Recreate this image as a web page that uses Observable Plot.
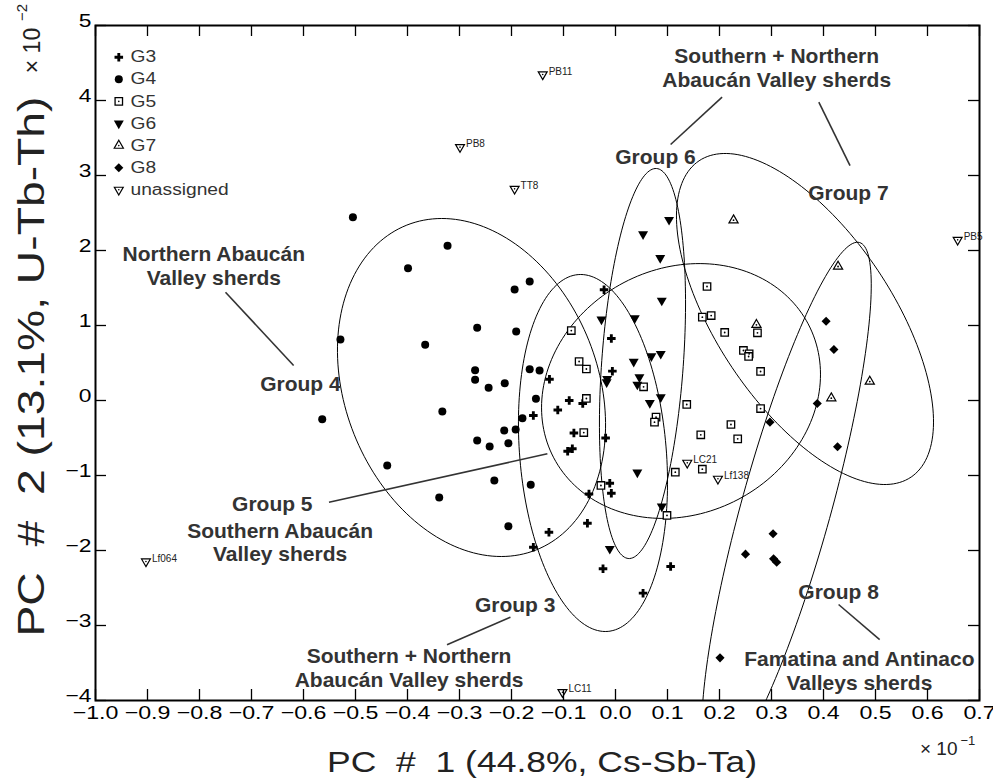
<!DOCTYPE html>
<html><head><meta charset="utf-8">
<script src="https://cdn.jsdelivr.net/npm/d3@7"></script>
<script src="https://cdn.jsdelivr.net/npm/@observablehq/plot@0.6"></script>
<style>body{margin:0;background:#fff} svg{display:block}</style>
</head><body><div id="chart"></div>
<script>
// ---------- data ----------
const xTicks = [-1.0,-0.9,-0.8,-0.7,-0.6,-0.5,-0.4,-0.3,-0.2,-0.1,0.0,0.1,0.2,0.3,0.4,0.5,0.6,0.7];
const yTicks = [-4,-3,-2,-1,0,1,2,3,4,5];

const g3 = [[-0.022,1.476],[-0.008,0.827],[-0.006,0.391],[-0.127,0.284],[-0.089,0.0],[-0.063,-0.04],[-0.111,-0.127],[-0.158,-0.2],[-0.08,-0.433],[-0.019,-0.5],[-0.083,-0.644],[-0.092,-0.676],[-0.011,-1.103],[-0.008,-1.236],[-0.051,-1.247],[-0.054,-1.636],[-0.128,-1.756],[-0.158,-1.956],[-0.024,-2.244],[0.106,-2.213],[0.053,-2.569]];
const g4 = [[-0.505,2.444],[-0.323,2.063],[-0.399,1.764],[-0.165,1.587],[-0.194,1.48],[-0.266,0.969],[-0.191,0.92],[-0.529,0.813],[-0.366,0.743],[-0.27,0.404],[-0.27,0.276],[-0.165,0.417],[-0.146,0.4],[-0.244,0.169],[-0.213,0.231],[-0.153,0.023],[-0.179,-0.236],[-0.333,-0.147],[-0.214,-0.4],[-0.192,-0.387],[-0.266,-0.533],[-0.242,-0.613],[-0.206,-0.569],[-0.564,-0.249],[-0.439,-0.867],[-0.233,-1.067],[-0.163,-1.124],[-0.339,-1.293],[-0.206,-1.676]];
const g5 = [[-0.085,0.933],[-0.07,0.52],[-0.056,0.42],[-0.056,0.027],[-0.061,-0.427],[0.054,0.183],[0.078,-0.222],[0.075,-0.289],[0.176,1.52],[0.167,1.111],[0.184,1.133],[0.21,0.907],[0.273,0.903],[0.246,0.667],[0.257,0.622],[0.256,0.587],[0.279,0.387],[0.137,-0.053],[0.279,-0.107],[0.222,-0.32],[0.164,-0.457],[0.235,-0.511],[0.115,-0.956],[0.167,-0.916],[-0.028,-1.133],[0.099,-1.533]];
const g6 = [[0.103,2.409],[0.053,2.217],[0.086,1.9],[0.089,1.333],[-0.027,1.08],[0.037,1.097],[0.069,0.591],[0.087,0.622],[0.035,0.517],[0.046,0.311],[0.042,0.213],[-0.016,0.287],[-0.017,0.244],[0.066,-0.033],[0.087,0.044],[0.042,-0.96],[0.089,-1.413],[-0.011,-1.977]];
const g7 = [[0.227,2.404],[0.428,1.787],[0.271,1.009],[0.489,0.253],[0.415,0.031]];
const g8 = [[0.405,1.057],[0.42,0.68],[0.388,-0.04],[0.297,-0.289],[0.427,-0.617],[0.303,-1.777],[0.25,-2.049],[0.304,-2.111],[0.31,-2.156],[0.201,-3.431]];
const unassigned = [["PB11",-0.14,4.347],["PB8",-0.299,3.378],["TT8",-0.194,2.822],["PB5",0.658,2.142],["LC21",0.138,-0.831],["Lf138",0.197,-1.044],["Lf064",-0.903,-2.147],["LC11",-0.102,-3.889]];

// group ellipses: centre and two conjugate semi-axis vectors (data units)
const ellipses = [
  {group:"G3", cx:-0.0433, cy:-0.70,  ax:0.0285,  ay:-2.3787, bx:-0.1405, by:-0.0809},
  {group:"G4", cx:-0.2769, cy:0.1733, ax:0.1244,  ay:-2.1653, bx:-0.2258, by:-0.6240},
  {group:"G5", cx:0.1260,  cy:0.1267, ax:0.2448,  ay:0.8907,  bx:0.1096,  by:-1.4467},
  {group:"G6", cx:0.0519,  cy:0.4933, ax:-0.0269, ay:-2.6000, bx:-0.0783, by:0.0387},
  {group:"G7", cx:0.3644,  cy:1.0867, ax:0.2037,  ay:-2.1093, bx:-0.1400, by:-0.6493},
  {group:"G8", cx:0.3288,  cy:-1.4133,ax:-0.1404, ay:-3.5200, bx:0.0829,  by:-0.1587}
];

const annotations = [
  {text:"Northern Abaucán\nValley sherds", x:-0.7725, y:1.804},
  {text:"Group 4", x:-0.606, y:0.231},
  {text:"Group 5", x:-0.660, y:-1.377},
  {text:"Southern Abaucán\nValley sherds", x:-0.645, y:-1.884},
  {text:"Group 3", x:-0.193, y:-2.72},
  {text:"Southern + Northern\nAbaucán Valley sherds", x:-0.397, y:-3.556},
  {text:"Group 6", x:0.077, y:3.25},
  {text:"Group 7", x:0.448, y:2.77},
  {text:"Southern + Northern\nAbaucán Valley sherds", x:0.310, y:4.444},
  {text:"Group 8", x:0.429, y:-2.54},
  {text:"Famatina and Antinaco\nValleys sherds", x:0.469, y:-3.60}
];
const pointers = [
  [-0.750,1.444,-0.619,0.467],
  [-0.551,-1.356,-0.131,-0.711],
  [-0.202,-2.889,-0.324,-3.257],
  [0.205,4.044,0.106,3.413],
  [0.391,3.977,0.451,3.133],
  [0.429,-2.72,0.508,-3.187]
];
const legendLabels = ["G3","G4","G5","G6","G7","G8","unassigned"];

// ---------- drawing ----------
const FONT = "Liberation Sans, Arial, Helvetica, sans-serif";
const downTriangle = {draw(ctx, size){ const y = Math.sqrt(size/(3*Math.sqrt(3))); ctx.moveTo(0, 2*y); ctx.lineTo(Math.sqrt(3)*y, -y); ctx.lineTo(-Math.sqrt(3)*y, -y); ctx.closePath(); }};

const styles = {
  G3: {symbol:"cross", r:3.6, fill:"black", stroke:"none"},
  G4: {symbol:"circle", r:4, fill:"black", stroke:"none"},
  G5: {symbol:"square", r:4.2, fill:"white", stroke:"black", strokeWidth:1.3},
  G6: {symbol:downTriangle, r:3.7, fill:"black", stroke:"none"},
  G7: {symbol:"triangle", r:3.4, fill:"white", stroke:"black", strokeWidth:1.2},
  G8: {symbol:"diamond2", r:4.1, fill:"black", stroke:"none"},
  unassigned: {symbol:downTriangle, r:3.3, fill:"white", stroke:"black", strokeWidth:1.2}
};
const centreDot = {G5:true, G7:true, unassigned:true};

const ellipsePts = ellipses.flatMap(e => d3.range(0, 360, 2).map(t => {
  const a = t*Math.PI/180;
  return {group:e.group, x:e.cx + e.ax*Math.cos(a) + e.bx*Math.sin(a), y:e.cy + e.ay*Math.cos(a) + e.by*Math.sin(a)};
}));

const W = 993, H = 780, mL = 95, mR = 14, mT = 25, mB = 80;
const plotW = W - mL - mR, plotH = H - mT - mB, TICK = 11;

const groups = {G3:g3, G4:g4, G5:g5, G6:g6, G7:g7, G8:g8};
const pointMarks = [];
for (const [k, arr] of Object.entries(groups)) {
  pointMarks.push(Plot.dot(arr, {x: d=>d[0], y: d=>d[1], ...styles[k]}));
  if (centreDot[k]) pointMarks.push(Plot.dot(arr, {x: d=>d[0], y: d=>d[1], r:0.9, fill:"black"}));
}
pointMarks.push(Plot.dot(unassigned, {x: d=>d[1], y: d=>d[2], ...styles.unassigned}));
pointMarks.push(Plot.dot(unassigned, {x: d=>d[1], y: d=>d[2], r:0.8, fill:"black"}));
pointMarks.push(Plot.text(unassigned, {x: d=>d[1], y: d=>d[2], text: d=>d[0], dx:6, dy:-3, textAnchor:"start", fontSize:10, fontFamily:FONT, fill:"#222"}));

const legendMarks = legendLabels.flatMap((lab, i) => {
  const s = styles[lab];
  const m = [
    Plot.dot([0], {frameAnchor:"top-left", dx:23.3, dy:31.7 + 22.1*i, ...s}),
    Plot.text([lab], {frameAnchor:"top-left", dx:35, dy:31.7 + 22.1*i, text: d=>d, textAnchor:"start", lineAnchor:"middle", fontSize:16, fontFamily:FONT, fill:"#333", ariaDescription:"legend-text"})
  ];
  if (centreDot[lab]) m.push(Plot.dot([0], {frameAnchor:"top-left", dx:23.3, dy:31.7 + 22.1*i, r:0.8, fill:"black"}));
  return m;
});

const chart = Plot.plot({
  width: W, height: H,
  marginLeft: mL, marginRight: mR, marginTop: mT, marginBottom: mB,
  style: {fontFamily: FONT, background: "white", overflow: "visible"},
  x: {domain: [-1.0, 0.7]},
  y: {domain: [-4, 5]},
  marks: [
    Plot.line(ellipsePts, {x:"x", y:"y", z:"group", curve:"linear-closed", stroke:"black", strokeWidth:1, clip:true}),
    ...pointMarks,
    Plot.link(pointers, {x1:d=>d[0], y1:d=>d[1], x2:d=>d[2], y2:d=>d[3], stroke:"#333", strokeWidth:1.6}),
    Plot.text(annotations, {x:"x", y:"y", text:"text", fontSize:21, fontWeight:"bold", fill:"#333", lineHeight:1.14, fontFamily:FONT}),
    ...legendMarks,
    // inward ticks on all four sides
    Plot.ruleX(xTicks, {x:d=>d, insetTop: plotH - TICK, stroke:"black", strokeWidth:1.3}),
    Plot.ruleX(xTicks, {x:d=>d, insetBottom: plotH - TICK, stroke:"black", strokeWidth:1.3}),
    Plot.ruleY(yTicks, {y:d=>d, insetRight: plotW - TICK, stroke:"black", strokeWidth:1.3}),
    Plot.ruleY(yTicks, {y:d=>d, insetLeft: plotW - TICK, stroke:"black", strokeWidth:1.3}),
    Plot.frame({stroke:"black", strokeWidth:2}),
    Plot.axisX(xTicks, {anchor:"bottom", tickSize:0, tickPadding:5, tickFormat:d3.format(".1f"), fontSize:19, label:null, fill:"black"}),
    Plot.axisY(yTicks, {anchor:"left", tickSize:0, tickPadding:4, dy:-5, tickFormat:d3.format("d"), fontSize:19, label:null, fill:"black"}),
    Plot.text(["PC\u00a0\u00a0#\u00a0\u00a01 (44.8%, Cs-Sb-Ta)"], {frameAnchor:"bottom", dx:4.5, dy:62, textAnchor:"middle", lineAnchor:"middle", text:d=>d, fontSize:30, fill:"#222", ariaDescription:"xtitle"}),
    Plot.text(["PC\u00a0\u00a0#\u00a0\u00a02 (13.1%, U-Tb-Th)"], {frameAnchor:"left", dx:-63, dy:3.5, rotate:-90, textAnchor:"middle", lineAnchor:"middle", text:d=>d, fontSize:37, fill:"#222", ariaDescription:"ytitle"}),
    Plot.text(["× 10"], {frameAnchor:"bottom-right", dx:-22, dy:48, textAnchor:"end", lineAnchor:"middle", text:d=>d, fontSize:19, fill:"#222"}),
    Plot.text(["−1"], {frameAnchor:"bottom-right", dx:-19, dy:40, textAnchor:"start", lineAnchor:"middle", text:d=>d, fontSize:13, fill:"#222"}),
    Plot.text(["× 10"], {frameAnchor:"top-left", dx:-63, dy:25, rotate:-90, textAnchor:"middle", lineAnchor:"middle", text:d=>d, fontSize:23, fill:"#222"}),
    Plot.text(["−2"], {frameAnchor:"top-left", dx:-73, dy:-13, rotate:-90, textAnchor:"middle", lineAnchor:"middle", text:d=>d, fontSize:15, fill:"#222"})
  ]
});

document.getElementById("chart").append(chart);

const svg = d3.select(chart);
function stretch(sel, k) {
  svg.selectAll(sel).each(function(){
    const w = this.getComputedTextLength();
    if (w > 0) { this.setAttribute("textLength", w*k); this.setAttribute("lengthAdjust","spacingAndGlyphs"); }
  });
}
function fitTo(sel, len) {
  svg.selectAll(sel).each(function(){ this.setAttribute("textLength", len); this.setAttribute("lengthAdjust","spacingAndGlyphs"); });
}
stretch('g[aria-label="x-axis tick label"] text', 1.22);
stretch('g[aria-label="y-axis tick label"] text', 1.2);
stretch('g[aria-description="legend-text"] text', 1.2);
fitTo('g[aria-description="xtitle"] text', 430);
fitTo('g[aria-description="ytitle"] text', 540);
</script></body></html>
